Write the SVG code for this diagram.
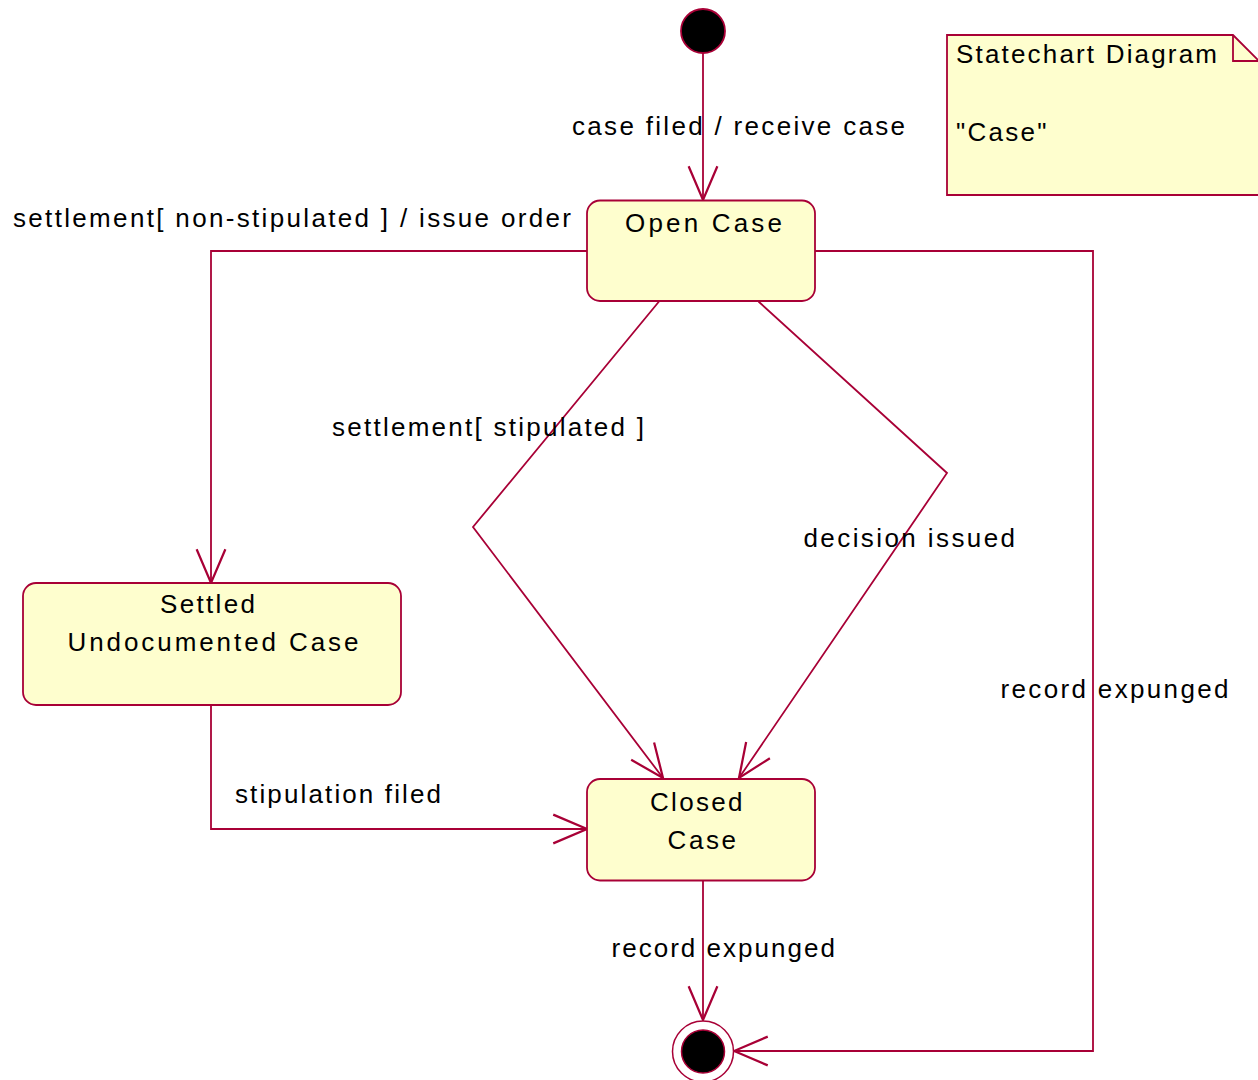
<svg xmlns="http://www.w3.org/2000/svg" width="1258" height="1080" viewBox="0 0 1258 1080">
<style>
.st{fill:#FEFECE;stroke:#A80036;stroke-width:1.8}
.ln{fill:none;stroke:#A80036;stroke-width:1.8}
.t{font-family:"Liberation Sans",Arial,sans-serif;font-size:26px;fill:#000}
</style>
<defs>
<marker id="arr" markerUnits="userSpaceOnUse" markerWidth="40" markerHeight="40" viewBox="-30 -15 32 30" refX="0" refY="0" orient="auto">
<path d="M-27,-11.5 L0,0 L-27,11.5" fill="none" stroke="#A80036" stroke-width="1.8"/>
</marker>
</defs>
<rect width="1258" height="1080" fill="#FFFFFF"/>

<g id="connectors">
<path class="ln" d="M703,53 L703,200" marker-end="url(#arr)"/>
<path class="ln" d="M587,251 L211,251 L211,583" marker-end="url(#arr)"/>
<path class="ln" d="M815,251 L1093,251 L1093,1051 L734,1051" marker-end="url(#arr)"/>
<path class="ln" d="M659,301.5 L473,527 L663,778" marker-end="url(#arr)"/>
<path class="ln" d="M758.5,301.5 L947,473 L739,778" marker-end="url(#arr)"/>
<path class="ln" d="M211,705 L211,829 L587,829" marker-end="url(#arr)"/>
<path class="ln" d="M703,881 L703,1020" marker-end="url(#arr)"/>
<text class="t" x="572" y="135" textLength="333" lengthAdjust="spacing">case filed / receive case</text>
<text class="t" x="13" y="227" textLength="558" lengthAdjust="spacing">settlement[ non-stipulated ] / issue order</text>
<text class="t" x="332" y="435.5" textLength="312" lengthAdjust="spacing">settlement[ stipulated ]</text>
<text class="t" x="803.5" y="546.5" textLength="211.5" lengthAdjust="spacing">decision issued</text>
<text class="t" x="1000.5" y="698" textLength="228" lengthAdjust="spacing">record expunged</text>
<text class="t" x="235" y="803" textLength="206" lengthAdjust="spacing">stipulation filed</text>
<text class="t" x="611.5" y="956.5" textLength="223.5" lengthAdjust="spacing">record expunged</text>
</g>

<g id="initial">
<circle cx="703" cy="31" r="22" fill="#000" stroke="#A80036" stroke-width="1.8"/>
</g>

<g id="open-case">
<rect class="st" x="587" y="200.5" width="228" height="100.5" rx="13" ry="13"/>
<text class="t" x="625" y="231.5" textLength="157" lengthAdjust="spacing">Open Case</text>
</g>

<g id="settled">
<rect class="st" x="23" y="583" width="378" height="122" rx="13" ry="13"/>
<text class="t" x="160" y="613" textLength="95" lengthAdjust="spacing">Settled</text>
<text class="t" x="67.5" y="650.5" textLength="291" lengthAdjust="spacing">Undocumented Case</text>
</g>

<g id="closed-case">
<rect class="st" x="587" y="779" width="228" height="101.5" rx="13" ry="13"/>
<text class="t" x="650" y="810.5" textLength="92.5" lengthAdjust="spacing">Closed</text>
<text class="t" x="667.5" y="848.5" textLength="68.5" lengthAdjust="spacing">Case</text>
</g>

<g id="final">
<circle cx="703" cy="1051.5" r="30.5" fill="#FFFFFF" stroke="#A80036" stroke-width="1.5"/>
<circle cx="703" cy="1051.5" r="21.5" fill="#000" stroke="#A80036" stroke-width="1.5"/>
</g>

<g id="note">
<path class="st" d="M947,35 L1233,35 L1259,61 L1259,195 L947,195 Z"/>
<path class="ln" d="M1233,35 L1233,61 L1259,61"/>
<text class="t" x="956" y="63" textLength="261" lengthAdjust="spacing">Statechart Diagram</text>
<text class="t" x="956" y="140.5" textLength="90.5" lengthAdjust="spacing">"Case"</text>
</g>
</svg>
